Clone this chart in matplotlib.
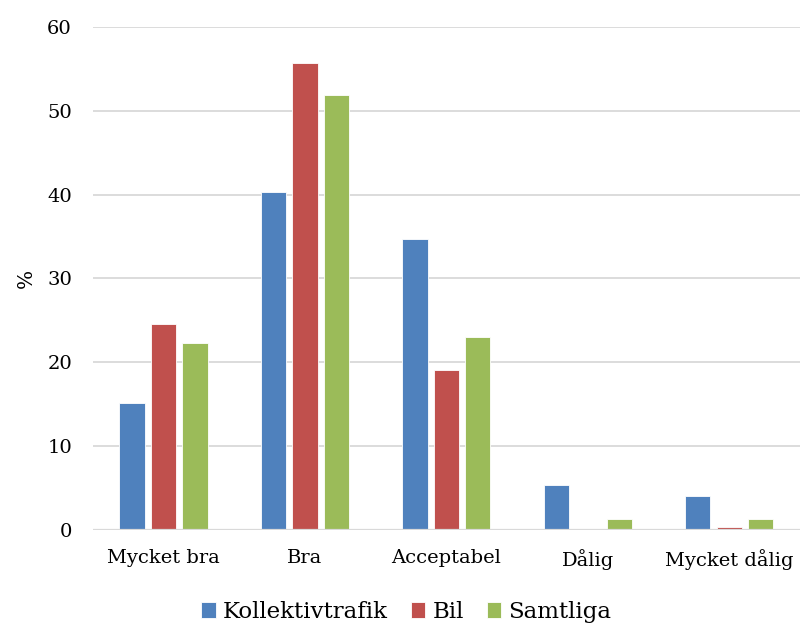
import matplotlib.pyplot as plt
import numpy as np

categories = ['Mycket bra', 'Bra', 'Acceptabel', 'Dålig', 'Mycket dålig']
kollektivtrafik = [15.2, 40.3, 34.7, 5.4, 4.1]
bil = [24.6, 55.7, 19.1, 0.0, 0.4]
samtliga = [22.3, 51.9, 23.0, 1.3, 1.3]

series = [('Kollektivtrafik', kollektivtrafik, '#4F81BD'),
          ('Bil', bil, '#C0504D'),
          ('Samtliga', samtliga, '#9BBB59')]

plt.rcParams['font.family'] = ['DejaVu Serif']

fig = plt.figure(figsize=(8, 6.26), dpi=100)
ax = fig.add_axes([0.116, 0.1534, 0.884, 0.8035])

x = np.arange(len(categories))
step = 0.2225
width = 0.178
for i, (name, vals, col) in enumerate(series):
    ax.bar(x + (i - 1) * step, vals, width, color=col, label=name,
           edgecolor='white', linewidth=0.6, zorder=3)

ax.set_xlim(-0.5, len(categories) - 0.5)
ax.set_ylim(0, 60)
ax.set_yticks(range(0, 61, 10))
ax.set_xticks(x)
ax.set_xticklabels(categories)
ax.grid(axis='y', color='#D9D9D9', linewidth=1.3, zorder=0)
ax.axhline(0, color='#D9D9D9', linewidth=1.6, zorder=4)
for s in ax.spines.values():
    s.set_visible(False)
ax.tick_params(axis='both', length=0, labelsize=14, colors='black')
ax.tick_params(axis='y', pad=15)
ax.tick_params(axis='x', pad=14)
ax.set_ylabel('%', fontsize=14.5, labelpad=8)

ax.legend(loc='center', bbox_to_anchor=(0.443, -0.163), ncol=3, frameon=False,
          fontsize=16.5, handlelength=0.65, handleheight=0.65, handletextpad=0.3,
          columnspacing=1.0)

fig.savefig('out.png', dpi=100)
